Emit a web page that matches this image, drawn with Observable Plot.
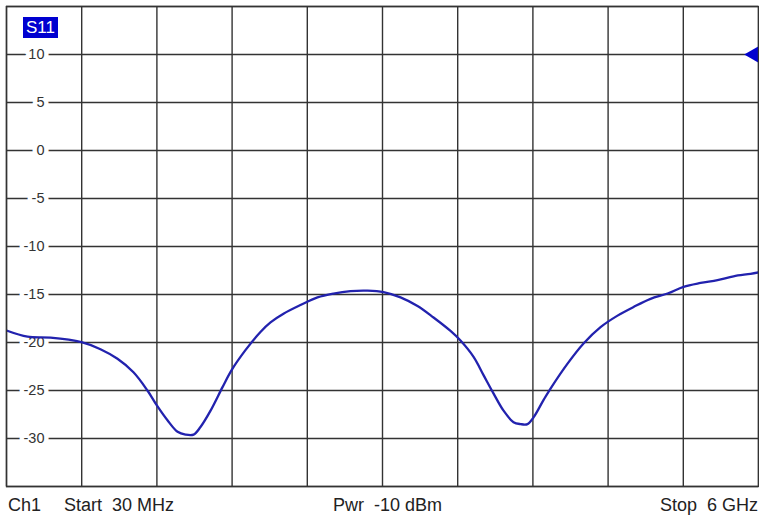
<!DOCTYPE html>
<html>
<head>
<meta charset="utf-8">
<script src="https://cdn.jsdelivr.net/npm/d3@7"></script>
<script src="https://cdn.jsdelivr.net/npm/@observablehq/plot@0.6"></script>
<style>
  html, body { margin: 0; padding: 0; background: #fff; }
  #wrap { position: relative; width: 759px; height: 519px; font-family: "Liberation Sans", Arial, sans-serif; }
  #badge { position: absolute; left: 23px; top: 17px; width: 35px; height: 21px; background: #0000d0; color: #fff;
           font-size: 17px; line-height: 21px; text-align: center; }
  .foot { position: absolute; top: 496px; font-size: 18px; line-height: 18px; color: #222; white-space: pre; }
</style>
</head>
<body>
<div id="wrap">
  <div id="chart"></div>
  <div id="badge">S11</div>
  <div class="foot" style="left:8px">Ch1</div>
  <div class="foot" style="left:64px">Start  30 MHz</div>
  <div class="foot" style="left:333px">Pwr  -10 dBm</div>
  <div class="foot" style="right:1px">Stop  6 GHz</div>
</div>
<script>
// Frequency sweep (MHz) and S11 magnitude (dB)
const freqMHz = [30, 197, 379, 625, 776, 911, 1038, 1149, 1221, 1308, 1388, 1451, 1515, 1570, 1650, 1745, 1816, 1927, 2046, 2126, 2229, 2364, 2499, 2626, 2761, 2896, 3023, 3158, 3293, 3420, 3555, 3634, 3738, 3817, 3896, 3976, 4055, 4111, 4166, 4214, 4293, 4349, 4484, 4611, 4746, 4881, 5008, 5143, 5278, 5405, 5540, 5675, 5802, 5937, 6000];
const s11dB = [-18.75, -19.4, -19.5, -19.97, -20.7, -21.7, -23.1, -25.0, -26.5, -28.1, -29.3, -29.6, -29.6, -28.8, -27.1, -24.65, -22.9, -20.8, -18.9, -17.9, -17.0, -16.1, -15.3, -14.9, -14.65, -14.6, -14.75, -15.3, -16.2, -17.4, -18.8, -19.8, -21.5, -23.4, -25.3, -27.1, -28.3, -28.5, -28.5, -27.8, -26.0, -24.8, -22.2, -20.1, -18.4, -17.2, -16.3, -15.45, -14.9, -14.2, -13.8, -13.5, -13.1, -12.85, -12.7];

const xDomain = [30, 6000];
const yDomain = [-35, 15];
const xGrid = d3.range(11).map(i => 30 + i * 597);
const yGrid = [15, 10, 5, 0, -5, -10, -15, -20, -25, -30, -35];
const yTickLabels = [10, 5, 0, -5, -10, -15, -20, -25, -30];
const refLevel = [{f: 6000, v: 10}];

const data = freqMHz.map((f, i) => ({f, v: s11dB[i]}));

const chart = Plot.plot({
  width: 759,
  height: 490,
  marginTop: 6,
  marginBottom: 4,
  marginLeft: 6,
  marginRight: 1,
  style: {fontFamily: "'Liberation Sans', Arial, sans-serif", background: "#fff"},
  x: {domain: xDomain, axis: null},
  y: {domain: yDomain, axis: null},
  marks: [
    Plot.ruleX(xGrid, {stroke: "#333", strokeWidth: 1.4, strokeOpacity: 1}),
    Plot.ruleY(yGrid, {stroke: "#333", strokeWidth: 1.4, strokeOpacity: 1}),
    Plot.text(yTickLabels, {x: () => xDomain[0], y: d => d, text: d => String(d), textAnchor: "end", dx: 38,
      fontSize: 14.5, fill: "#333", stroke: "#fff", strokeWidth: 9, paintOrder: "stroke"}),
    Plot.line(data, {x: "f", y: "v", stroke: "#2222ae", strokeWidth: 2.3, curve: "catmull-rom", clip: true}),
    Plot.dot(refLevel, {x: "f", y: "v", symbol: "triangle", r: 6, fill: "#0000d0", rotate: -90, dx: -5}),
    Plot.frame({stroke: "#333", strokeWidth: 1.4})
  ]
});
document.getElementById("chart").appendChild(chart);
</script>
</body>
</html>
